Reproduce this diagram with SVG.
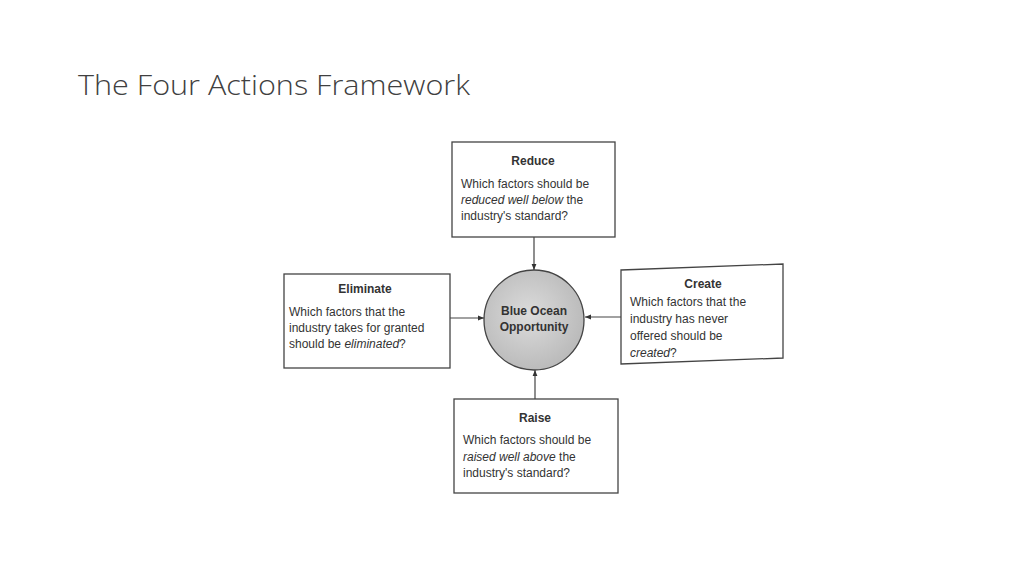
<svg xmlns="http://www.w3.org/2000/svg" width="1024" height="576" viewBox="0 0 1024 576">
<defs>
<marker id="ah" viewBox="0 0 10 10" refX="10" refY="5" markerWidth="5" markerHeight="5" orient="auto"><path d="M0,1 L10,5 L0,9 z" fill="#333"/></marker>
<radialGradient id="cg" cx="0.45" cy="0.45" r="0.6"><stop offset="0" stop-color="#dcdcdc"/><stop offset="1" stop-color="#b8b8b8"/></radialGradient>
</defs>
<style>
.box{fill:#fff;stroke:#444;stroke-width:1.3}
.h{font-family:"Liberation Sans",Arial,sans-serif;font-size:12px;font-weight:bold;fill:#333;text-anchor:middle}
.t{font-family:"Liberation Sans",Arial,sans-serif;font-size:12px;fill:#333}
.c{stroke:#444;stroke-width:1.2;fill:none;marker-end:url(#ah)}
</style>
<rect width="1024" height="576" fill="#fff"/>
<text x="78" y="95" font-family="'Open Sans','Liberation Sans',sans-serif" font-size="27" font-weight="300" fill="#404040" textLength="392" lengthAdjust="spacingAndGlyphs">The Four Actions Framework</text>
<g id="connectors">
<line class="c" x1="534" y1="237" x2="534" y2="270"/>
<line class="c" x1="450" y1="318" x2="484" y2="318"/>
<line class="c" x1="621" y1="317" x2="585" y2="317"/>
<line class="c" x1="535" y1="399" x2="535" y2="370"/>
</g>
<g id="reduce">
<rect class="box" x="452" y="142" width="163" height="95"/>
<text class="h" x="533" y="165">Reduce</text>
<text class="t" x="461" y="188">Which factors should be</text>
<text class="t" x="461" y="204"><tspan font-style="italic">reduced well below</tspan> the</text>
<text class="t" x="461" y="220">industry's standard?</text>
</g>
<g id="eliminate">
<rect class="box" x="284" y="274" width="166" height="94"/>
<text class="h" x="365" y="293">Eliminate</text>
<text class="t" x="289" y="316">Which factors that the</text>
<text class="t" x="289" y="332">industry takes for granted</text>
<text class="t" x="289" y="348">should be <tspan font-style="italic">eliminated</tspan>?</text>
</g>
<g id="center">
<circle cx="534" cy="320" r="50" fill="url(#cg)" stroke="#444" stroke-width="1.3"/>
<text class="h" x="534" y="315">Blue Ocean</text>
<text class="h" x="534" y="331">Opportunity</text>
</g>
<g id="create">
<polygon class="box" points="621,270 783,264 783,358 621,364"/>
<text class="h" x="703" y="288">Create</text>
<text class="t" x="630" y="306">Which factors that the</text>
<text class="t" x="630" y="323">industry has never</text>
<text class="t" x="630" y="340">offered should be</text>
<text class="t" x="630" y="357"><tspan font-style="italic">created</tspan>?</text>
</g>
<g id="raise">
<rect class="box" x="454" y="399" width="164" height="94"/>
<text class="h" x="535" y="422">Raise</text>
<text class="t" x="463" y="444">Which factors should be</text>
<text class="t" x="463" y="461"><tspan font-style="italic">raised well above</tspan> the</text>
<text class="t" x="463" y="477">industry's standard?</text>
</g>
</svg>
